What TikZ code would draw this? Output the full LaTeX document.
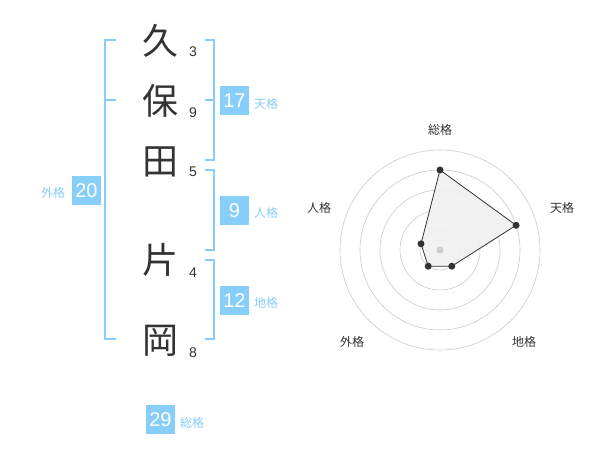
\documentclass[tikz,border=0pt]{standalone}
\usepackage{fontspec}
\setmainfont{Liberation Sans}
\newfontfamily\cjk{Noto Sans CJK JP}
\definecolor{kblue}{HTML}{87CEFA}
\definecolor{kdark}{HTML}{333333}
\definecolor{kgrid}{HTML}{CCCCCC}
\definecolor{kfill}{HTML}{F0F0F0}
\tikzset{
  kanji/.style={text=kdark, font=\cjk\fontsize{36}{36}\selectfont, inner sep=0pt},
  stroke/.style={text=kdark, font=\fontsize{14}{14}\selectfont, inner sep=0pt},
  valbox/.style={fill=kblue, text=white, minimum width=29pt, minimum height=29pt, inner sep=0pt, font=\fontsize{20}{20}\selectfont},
  kaku/.style={text=kblue, font=\cjk\fontsize{12}{12}\selectfont, inner sep=0pt},
  bracket/.style={draw=kblue, line width=2pt},
  ring/.style={draw=kgrid, line width=0.6pt},
  rlabel/.style={text=kdark, font=\cjk\fontsize{12}{12}\selectfont, inner sep=0pt},
  dot/.style={circle, fill=kdark, inner sep=0pt, minimum size=7pt},
}
\begin{document}
\begin{tikzpicture}[x=1pt, y=-1pt]
\useasboundingbox[fill=white] (0,0) rectangle (600,470);
% characters
\node[kanji] (c1) at (160,41) {久};
\node[kanji] (c2) at (160,101) {保};
\node[kanji] (c3) at (160,162) {田};
\node[kanji] (c4) at (160,260) {片};
\node[kanji] (c5) at (160,341) {岡};
% stroke counts
\node[stroke] (n1) at (193,52) {3};
\node[stroke] (n2) at (193,113) {9};
\node[stroke] (n3) at (193,172) {5};
\node[stroke] (n4) at (193,273) {4};
\node[stroke] (n5) at (193,353) {8};
% brackets
\draw[bracket] (116,40) -- (105,40) -- (105,339) -- (116,339);
\draw[bracket] (105,100) -- (116,100);
\draw[bracket] (205,40) -- (214,40) -- (214,160) -- (205,160);
\draw[bracket] (205,100) -- (214,100);
\draw[bracket] (205,170) -- (214,170) -- (214,250) -- (205,250);
\draw[bracket] (205,260) -- (214,260) -- (214,339) -- (205,339);
% value boxes
\node[valbox] (ten) at (234.5,100.5) {17};
\node[kaku] (tenl) at (266,104) {天格};
\node[valbox] (jin) at (234.5,210.5) {9};
\node[kaku] (jinl) at (266,213) {人格};
\node[valbox] (chi) at (234.5,300.5) {12};
\node[kaku] (chil) at (266,303) {地格};
\node[valbox] (gai) at (86.5,190.5) {20};
\node[kaku] (gail) at (53,193) {外格};
\node[valbox] (sou) at (160.5,419.5) {29};
\node[kaku] (soul) at (192,423) {総格};
% radar
\coordinate (rc) at (440,250);
\foreach \r in {20,40,60,80,100} \draw[ring] (rc) circle[radius=\r];
\coordinate (p1) at (440,170);
\coordinate (p2) at (516.1,225.3);
\coordinate (p3) at (451.8,266.2);
\coordinate (p4) at (428.2,266.2);
\coordinate (p5) at (421,243.8);
\filldraw[fill=kfill, draw=kdark, line width=0.8pt, fill opacity=0.9] (p1) -- (p2) -- (p3) -- (p4) -- (p5) -- cycle;
\fill[kgrid] (rc) circle[radius=3.5];
\foreach \p in {p1,p2,p3,p4,p5} \node[dot] at (\p) {};
\node[rlabel] (l1) at (440,130) {総格};
\node[rlabel] (l2) at (562,208) {天格};
\node[rlabel] (l3) at (524,342) {地格};
\node[rlabel] (l4) at (352,342) {外格};
\node[rlabel] (l5) at (319,208) {人格};
\end{tikzpicture}
\end{document}
